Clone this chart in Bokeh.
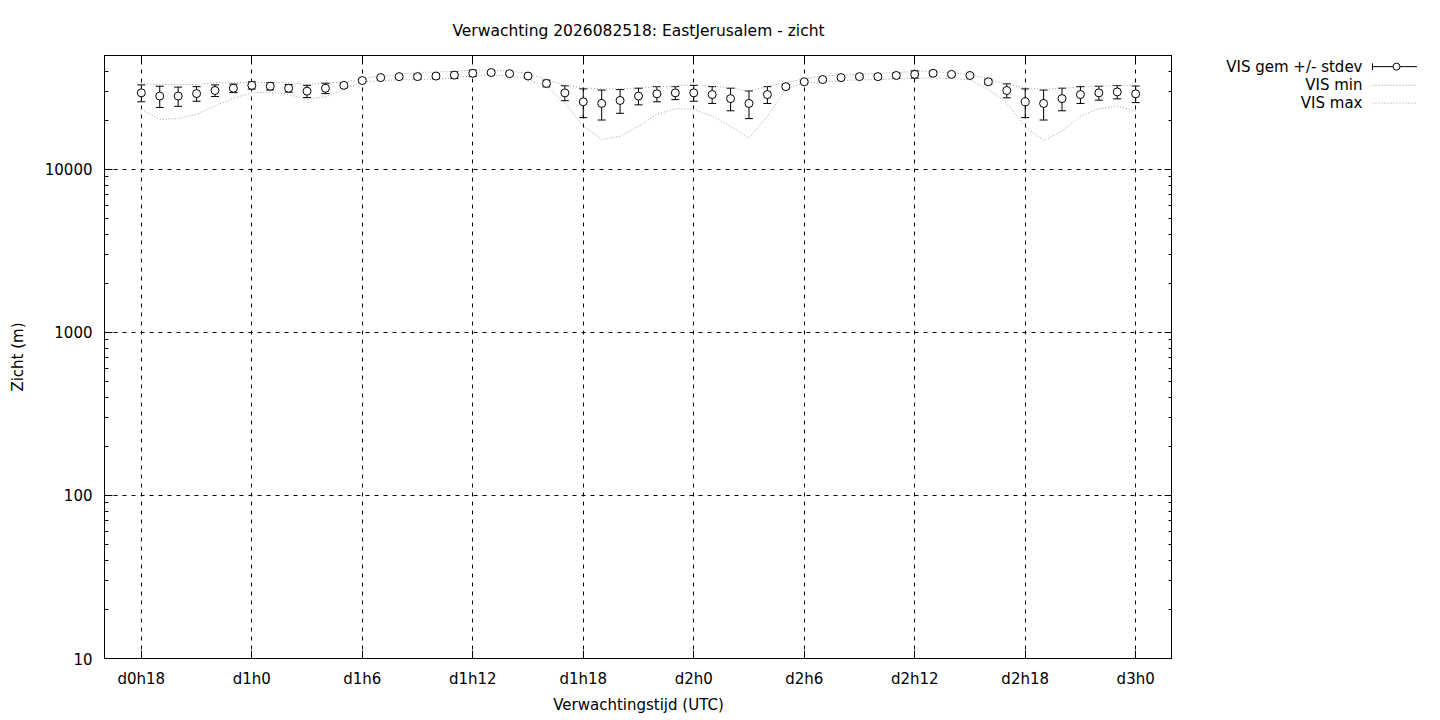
from bokeh.plotting import figure
from bokeh.models import (Range1d, FixedTicker, LogAxis, LinearAxis, Whisker,
                          TeeHead, ColumnDataSource)
from bokeh.layouts import row
from bokeh.embed import file_html
from bokeh.resources import INLINE
from bokeh.core.properties import value

FONT = "DejaVu Sans"

title_text = "Verwachting 2026082518: EastJerusalem - zicht"

# forecast hour (relative to d0h0)
hours = list(range(18, 73))

vis_mean = [29500, 28200, 28200, 29200, 30500, 31500, 32800, 32400, 31500, 30200,
            31500, 32800, 35100, 36600, 37100, 37100, 37400, 37900, 38900, 39300,
            38700, 37400, 33700, 29500, 26000, 25400, 26500, 28200, 29100, 29500,
            29500, 28800, 27200, 25400, 28800, 32200, 34500, 35600, 36600, 37100,
            37100, 37700, 38300, 38900, 38300, 37700, 34500, 30500, 26000, 25400,
            27200, 28800, 29500, 29900, 29100]

vis_stdev = [3500, 4200, 3800, 3000, 2500, 1900, 1700, 1700, 1700, 2600,
             2300, 1000, 600, 600, 800, 1200, 1400, 1800, 1800, 800,
             800, 800, 1600, 3100, 5200, 5300, 4400, 3300, 3100, 2700,
             3300, 3400, 4300, 4900, 3400, 1000, 600, 600, 1000, 1000,
             1200, 1400, 2000, 1200, 800, 800, 1200, 3000, 5200, 5300,
             4300, 3400, 2900, 2800, 3400]

vis_min = [23400, 20300, 20500, 21800, 24500, 27300, 29500, 29800, 28800, 26900,
           27900, 31000, 34500, 35000, 35500, 35500, 36000, 36500, 37500, 38000,
           37500, 36000, 32000, 25700, 18400, 15300, 16000, 18400, 21800, 23600,
           23400, 21200, 18400, 15600, 21200, 31000, 34000, 34300, 35000, 35500,
           35500, 36000, 36000, 36500, 36000, 35500, 31000, 25500, 18400, 15000,
           17200, 21200, 23600, 24500, 22800]

vis_max = [33600, 33200, 33200, 33200, 34100, 34100, 34300, 34100, 34100, 33200,
           33900, 34300, 36000, 37400, 38300, 39300, 39600, 40000, 40600, 40600,
           40000, 38900, 35600, 32800, 31700, 31200, 31200, 31700, 32200, 32400,
           33200, 32400, 31700, 30200, 32400, 34000, 36000, 37400, 38000, 38300,
           38900, 39300, 40000, 40000, 38900, 38300, 36000, 33200, 31700, 31000,
           31500, 32000, 32400, 32800, 32800]

x_tick_hours = [18, 24, 30, 36, 42, 48, 54, 60, 66, 72]
x_tick_labels = ["d0h18", "d1h0", "d1h6", "d1h12", "d1h18",
                 "d2h0", "d2h6", "d2h12", "d2h18", "d3h0"]
y_ticks = [10, 100, 1000, 10000]
y_tick_labels = ["10", "100", "1000", "10000"]

legend_labels = ["VIS gem +/- stdev", "VIS min", "VIS max"]

y_minor = [m * d for d in (10, 100, 1000, 10000) for m in range(2, 10) if m * d <= 50000]

src = ColumnDataSource(dict(
    x=hours, mean=vis_mean,
    lower=[m - s for m, s in zip(vis_mean, vis_stdev)],
    upper=[m + s for m, s in zip(vis_mean, vis_stdev)],
    vmin=vis_min, vmax=vis_max))

p = figure(frame_width=1068, frame_height=603,
           x_range=Range1d(16, 74), y_range=Range1d(10, 50000),
           y_axis_type="log", output_backend="svg", toolbar_location=None,
           min_border_left=0, min_border_right=0, min_border_top=0,
           min_border_bottom=0, title=title_text,
           background_fill_color="white", border_fill_color="white")
p.margin = (4, 0, 0, 5)

p.title.align = "center"
p.title.text_font = FONT
p.title.text_font_size = "15.5px"
p.title.text_font_style = "normal"
p.title.text_color = "black"
p.title.standoff = 31

xt = FixedTicker(ticks=x_tick_hours)
yt = FixedTicker(ticks=y_ticks, minor_ticks=y_minor)

xa = p.xaxis[0]
xa.ticker = xt
xa.major_label_overrides = {h: l for h, l in zip(x_tick_hours, x_tick_labels)}
xa.axis_label = "Verwachtingstijd (UTC)"
ya = p.yaxis[0]
ya.ticker = yt
ya.major_label_overrides = {v: l for v, l in zip(y_ticks, y_tick_labels)}
ya.axis_label = "Zicht (m)"

for ax in (xa, ya):
    ax.axis_label_text_font = FONT
    ax.axis_label_text_font_size = "15px"
    ax.axis_label_text_font_style = "normal"
    ax.axis_label_text_color = "black"
    ax.major_label_text_font = FONT
    ax.major_label_text_font_size = "15px"
    ax.major_label_text_color = "black"
    ax.axis_line_color = "black"
    ax.major_tick_in = 8
    ax.major_tick_out = 0
    ax.minor_tick_in = 4
    ax.minor_tick_out = 0
    ax.major_tick_line_color = "black"
    ax.minor_tick_line_color = "black"
xa.minor_tick_line_color = None
xa.major_label_standoff = 11
xa.axis_label_standoff = 5
ya.major_label_standoff = 12
ya.axis_label_standoff = 15

top_ax = LinearAxis(ticker=xt, major_label_text_font_size="1px",
                    major_label_text_color=None,
                    major_label_standoff=0, major_tick_in=8, major_tick_out=0,
                    minor_tick_line_color=None, axis_line_color="black")
right_ax = LogAxis(ticker=yt, major_label_text_font_size="1px",
                   major_label_text_color=None,
                   major_label_standoff=0, major_tick_in=8, major_tick_out=0,
                   minor_tick_in=4, minor_tick_out=0, axis_line_color="black")
p.add_layout(top_ax, "above")
p.add_layout(right_ax, "right")

p.xgrid.ticker = xt
p.ygrid.ticker = yt
for g in (p.xgrid, p.ygrid):
    g.grid_line_color = "black"
    g.grid_line_dash = "4 5"
    g.grid_line_width = 1
    g.grid_line_alpha = 1
p.ygrid.minor_grid_line_color = None
p.outline_line_color = "black"

dot_color = "#a0a0a0"
p.line("x", "vmin", source=src, line_color=dot_color, line_dash="1 2", line_width=1)
p.line("x", "vmax", source=src, line_color=dot_color, line_dash="1 2", line_width=1)

wh = Whisker(base="x", upper="upper", lower="lower", source=src,
             line_color="black", line_width=1,
             upper_head=TeeHead(size=8, line_color="black", line_width=1),
             lower_head=TeeHead(size=8, line_color="black", line_width=1))
p.add_layout(wh)
p.scatter("x", "mean", source=src, marker="circle", size=8,
          fill_color="white", line_color="black", line_width=1)

# legend panel
leg = figure(width=245, height=603, x_range=Range1d(0, 245), y_range=Range1d(603, 0),
             output_backend="svg", toolbar_location=None, min_border=0,
             background_fill_color="white", border_fill_color="white")
leg.axis.visible = False
leg.grid.visible = False
leg.outline_line_color = None
rows_y = [18.5, 41.2, 63]
tx = 190
leg.text(x=[tx] * 3, y=rows_y, text=legend_labels, text_align="right",
         text_baseline="middle", text_font=value(FONT), text_font_size="15px",
         text_color="black")
leg.segment(x0=[tx + 10], y0=[rows_y[0]], x1=[tx + 58], y1=[rows_y[0]], line_color="black")
leg.segment(x0=[tx + 10, tx + 58], y0=[rows_y[0] - 4] * 2, x1=[tx + 10, tx + 58],
            y1=[rows_y[0] + 4] * 2, line_color="black")
leg.scatter(x=[tx + 34], y=[rows_y[0]], marker="circle", size=7,
            fill_color="white", line_color="black")
leg.segment(x0=[tx + 10, tx + 10], y0=rows_y[1:], x1=[tx + 58, tx + 58], y1=rows_y[1:],
            line_color=dot_color, line_dash="1 2")

layout = row(p, leg)
open("out.html", "w").write(file_html(layout, INLINE))
